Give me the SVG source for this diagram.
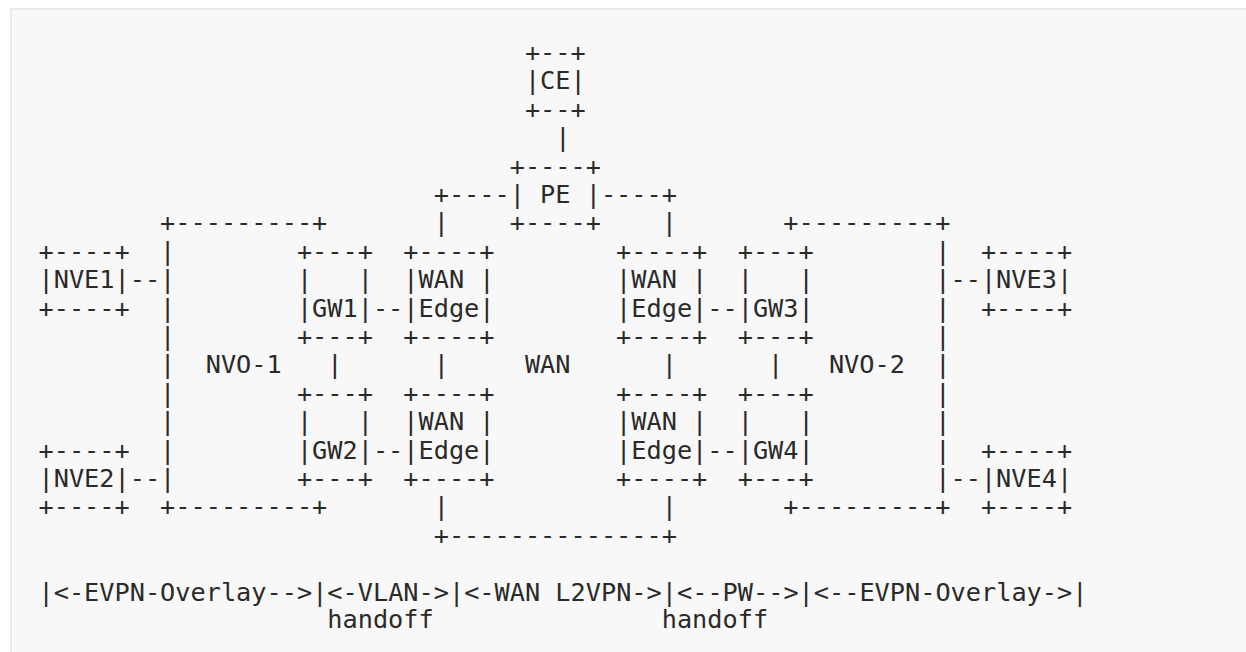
<svg xmlns="http://www.w3.org/2000/svg" width="1246" height="652" viewBox="0 0 1246 652" xml:space="preserve">
<style>
.t{font-family:"DejaVu Sans Mono","Liberation Mono",monospace;font-size:25.25px;fill:#2a2a2a;white-space:pre}
</style>
<rect x="0" y="0" width="1246" height="652" fill="#ffffff"/>
<rect x="11" y="9" width="1260" height="670" fill="#f8f8f8" stroke="#ebebeb" stroke-width="2"/>
<g class="t">
<g id="CE">
<text class="t" x="524.9" y="60.9">+--+</text>
<text class="t" x="524.9" y="89.3">|CE|</text>
<text class="t" x="524.9" y="117.7">+--+</text>
</g>
<g id="PE">
<text class="t" x="509.7" y="174.5">+----+</text>
<text class="t" x="509.7" y="202.9">| PE |</text>
<text class="t" x="509.7" y="231.3">+----+</text>
</g>
<g id="NVO-1">
<text class="t" x="160.1" y="231.3">+---------+</text>
<text class="t" x="160.1" y="259.7">|</text>
<text class="t" x="160.1" y="288.1">|</text>
<text class="t" x="160.1" y="316.5">|</text>
<text class="t" x="160.1" y="344.9">|</text>
<text class="t" x="160.1" y="373.3">|</text>
<text class="t" x="160.1" y="401.7">|</text>
<text class="t" x="160.1" y="430.1">|</text>
<text class="t" x="160.1" y="458.5">|</text>
<text class="t" x="160.1" y="486.9">|</text>
<text class="t" x="160.1" y="515.3">+---------+</text>
<text class="t" x="205.7" y="373.3">NVO-1</text>
</g>
<g id="NVO-2">
<text class="t" x="783.3" y="231.3">+---------+</text>
<text class="t" x="935.3" y="259.7">|</text>
<text class="t" x="935.3" y="288.1">|</text>
<text class="t" x="935.3" y="316.5">|</text>
<text class="t" x="935.3" y="344.9">|</text>
<text class="t" x="935.3" y="373.3">|</text>
<text class="t" x="935.3" y="401.7">|</text>
<text class="t" x="935.3" y="430.1">|</text>
<text class="t" x="935.3" y="458.5">|</text>
<text class="t" x="935.3" y="486.9">|</text>
<text class="t" x="783.3" y="515.3">+---------+</text>
<text class="t" x="828.9" y="373.3">NVO-2</text>
</g>
<g id="NVE1">
<text class="t" x="38.5" y="259.7">+----+</text>
<text class="t" x="38.5" y="288.1">|NVE1|</text>
<text class="t" x="38.5" y="316.5">+----+</text>
</g>
<g id="NVE2">
<text class="t" x="38.5" y="458.5">+----+</text>
<text class="t" x="38.5" y="486.9">|NVE2|</text>
<text class="t" x="38.5" y="515.3">+----+</text>
</g>
<g id="NVE3">
<text class="t" x="980.9" y="259.7">+----+</text>
<text class="t" x="980.9" y="288.1">|NVE3|</text>
<text class="t" x="980.9" y="316.5">+----+</text>
</g>
<g id="NVE4">
<text class="t" x="980.9" y="458.5">+----+</text>
<text class="t" x="980.9" y="486.9">|NVE4|</text>
<text class="t" x="980.9" y="515.3">+----+</text>
</g>
<g id="GW1">
<text class="t" x="296.9" y="259.7">+---+</text>
<text class="t" x="296.9" y="288.1">|   |</text>
<text class="t" x="296.9" y="316.5">|GW1|</text>
<text class="t" x="296.9" y="344.9">+---+</text>
</g>
<g id="GW2">
<text class="t" x="296.9" y="401.7">+---+</text>
<text class="t" x="296.9" y="430.1">|   |</text>
<text class="t" x="296.9" y="458.5">|GW2|</text>
<text class="t" x="296.9" y="486.9">+---+</text>
</g>
<g id="GW3">
<text class="t" x="737.7" y="259.7">+---+</text>
<text class="t" x="737.7" y="288.1">|   |</text>
<text class="t" x="737.7" y="316.5">|GW3|</text>
<text class="t" x="737.7" y="344.9">+---+</text>
</g>
<g id="GW4">
<text class="t" x="737.7" y="401.7">+---+</text>
<text class="t" x="737.7" y="430.1">|   |</text>
<text class="t" x="737.7" y="458.5">|GW4|</text>
<text class="t" x="737.7" y="486.9">+---+</text>
</g>
<g id="WAN-Edge-1">
<text class="t" x="403.3" y="259.7">+----+</text>
<text class="t" x="403.3" y="288.1">|WAN |</text>
<text class="t" x="403.3" y="316.5">|Edge|</text>
<text class="t" x="403.3" y="344.9">+----+</text>
</g>
<g id="WAN-Edge-2">
<text class="t" x="403.3" y="401.7">+----+</text>
<text class="t" x="403.3" y="430.1">|WAN |</text>
<text class="t" x="403.3" y="458.5">|Edge|</text>
<text class="t" x="403.3" y="486.9">+----+</text>
</g>
<g id="WAN-Edge-3">
<text class="t" x="616.1" y="259.7">+----+</text>
<text class="t" x="616.1" y="288.1">|WAN |</text>
<text class="t" x="616.1" y="316.5">|Edge|</text>
<text class="t" x="616.1" y="344.9">+----+</text>
</g>
<g id="WAN-Edge-4">
<text class="t" x="616.1" y="401.7">+----+</text>
<text class="t" x="616.1" y="430.1">|WAN |</text>
<text class="t" x="616.1" y="458.5">|Edge|</text>
<text class="t" x="616.1" y="486.9">+----+</text>
</g>
<g id="WAN">
<text class="t" x="524.9" y="373.3">WAN</text>
</g>
<g id="connectors">
<text class="t" x="555.3" y="146.1">|</text>
<text class="t" x="433.7" y="202.9">+----</text>
<text class="t" x="600.9" y="202.9">----+</text>
<text class="t" x="433.7" y="231.3">|</text>
<text class="t" x="661.7" y="231.3">|</text>
<text class="t" x="129.7" y="288.1">--</text>
<text class="t" x="950.5" y="288.1">--</text>
<text class="t" x="372.9" y="316.5">--</text>
<text class="t" x="707.3" y="316.5">--</text>
<text class="t" x="327.3" y="373.3">|</text>
<text class="t" x="433.7" y="373.3">|</text>
<text class="t" x="661.7" y="373.3">|</text>
<text class="t" x="768.1" y="373.3">|</text>
<text class="t" x="372.9" y="458.5">--</text>
<text class="t" x="707.3" y="458.5">--</text>
<text class="t" x="129.7" y="486.9">--</text>
<text class="t" x="950.5" y="486.9">--</text>
<text class="t" x="433.7" y="515.3">|</text>
<text class="t" x="661.7" y="515.3">|</text>
<text class="t" x="433.7" y="543.7">+--------------+</text>
</g>
<g id="legend">
<text class="t" x="38.5" y="600.5">|&lt;-EVPN-Overlay--&gt;|&lt;-VLAN-&gt;|&lt;-WAN L2VPN-&gt;|&lt;--PW--&gt;|&lt;--EVPN-Overlay-&gt;|</text>
<text class="t" x="327.3" y="627.5">handoff</text>
<text class="t" x="661.7" y="627.5">handoff</text>
</g>
</g>
</svg>
